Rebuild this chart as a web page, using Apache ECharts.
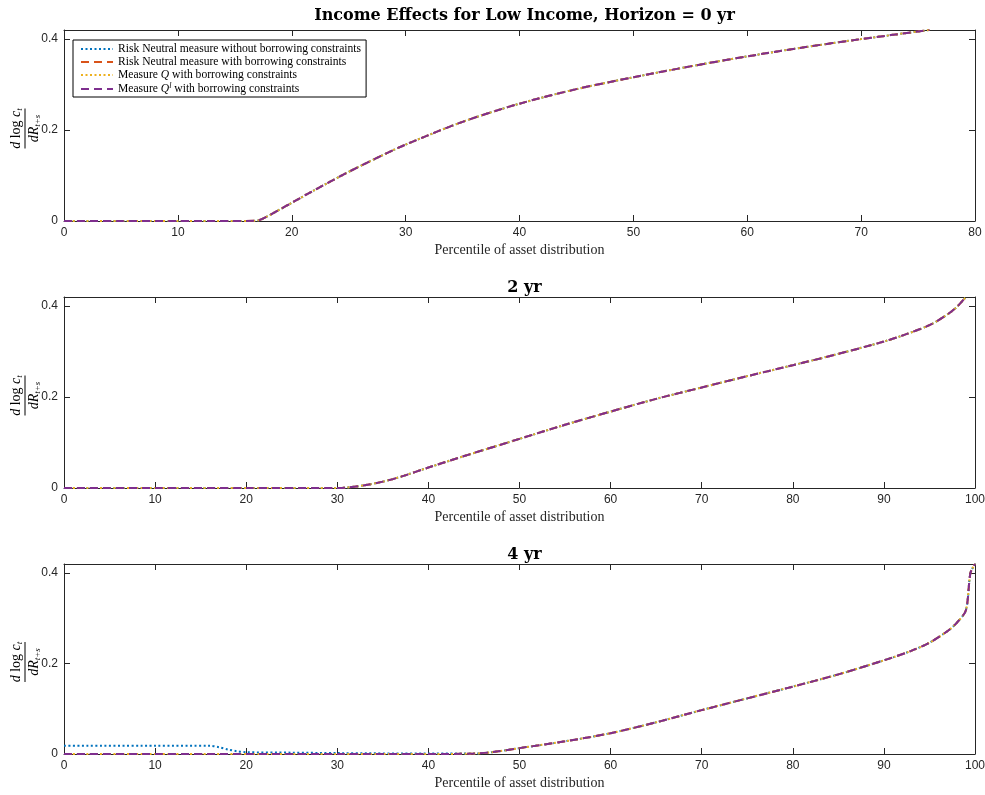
<!DOCTYPE html>
<html><head><meta charset="utf-8">
<script src="https://cdn.jsdelivr.net/npm/echarts@6/dist/echarts.min.js"></script>
<style>html,body{margin:0;padding:0;background:#fff}#c{width:985px;height:795px}</style>
</head><body><div id="c"></div>
<script>
// ---------- data ----------
const seriesNames = [
  'Risk Neutral measure without borrowing constraints',
  'Risk Neutral measure with borrowing constraints',
  'Measure Q with borrowing constraints',
  'Measure Ql with borrowing constraints'
];
const panelTitles = ['Income Effects for Low Income, Horizon = 0 yr', '2 yr', '4 yr'];
const xMax = [80, 100, 100];
const yTicks = [0, 0.2, 0.4];

// Horizon 0 yr
const x0 = [0, 5, 10, 15, 16, 17, 18, 19, 20, 22, 25, 28, 30, 35, 40, 45, 50, 55, 60, 65, 70, 76];
const y0 = [0, 0, 0, 0, 0, 0.001, 0.012, 0.026, 0.040, 0.068, 0.108, 0.145, 0.168, 0.218, 0.258, 0.290, 0.316, 0.340, 0.362, 0.382, 0.400, 0.420];

// Horizon 2 yr
const x2 = [0, 10, 20, 30, 31, 33, 35, 37, 40, 45, 50, 55, 60, 65, 70, 75, 80, 85, 90, 92, 95, 97, 98, 99];
const y2 = [0, 0, 0, 0, 0.001, 0.006, 0.014, 0.025, 0.045, 0.077, 0.108, 0.139, 0.168, 0.196, 0.221, 0.246, 0.270, 0.295, 0.322, 0.335, 0.358, 0.382, 0.398, 0.420];

// Horizon 4 yr
const x4 = [0, 10, 16, 17, 18, 19, 20, 25, 30, 40, 45, 47, 50, 55, 60, 65, 70, 75, 80, 85, 90, 93, 95, 97, 98, 99, 99.5, 100];
const y4 = [0, 0, 0, 0, 0, 0, 0, 0, 0, 0, 0.001, 0.004, 0.013, 0.028, 0.046, 0.070, 0.097, 0.123, 0.149, 0.176, 0.207, 0.228, 0.246, 0.272, 0.290, 0.318, 0.400, 0.420];
const y4rn = [0.018, 0.018, 0.018, 0.015, 0.010, 0.006, 0.004, 0.003, 0.002, 0.001, 0.001, 0.004, 0.013, 0.028, 0.046, 0.070, 0.097, 0.123, 0.149, 0.176, 0.207, 0.228, 0.246, 0.272, 0.290, 0.318, 0.400, 0.420];

// ---------- styles ----------
const colors = ['#0072BD', '#D95319', '#EDB120', '#7E2F8E'];
const dashes = [[2, 2.5], [8, 5], [2, 2.5], [8, 5]];
const grids = [
  {left: 64, top: 30, width: 911, height: 191},
  {left: 64, top: 297, width: 911, height: 191},
  {left: 64, top: 564, width: 911, height: 190}
];
const titleTops = [3, 275, 542];
const serif = '"Liberation Serif", "DejaVu Serif", serif';
const wideSerif = '"DejaVu Serif", "Liberation Serif", serif';
const sans = '"Liberation Sans", Arial, sans-serif';

const xs = [x0, x2, x4];
const ysets = [[y0, y0, y0, y0], [y2, y2, y2, y2], [y4rn, y4, y4, y4]];

const chart = echarts.init(document.getElementById('c'));
const xAxis = [], yAxis = [], series = [], title = [], graphic = [];

const subRich = {
  i: {fontFamily: serif, fontStyle: 'italic', fontSize: 14},
  r: {fontFamily: serif, fontSize: 14},
  s: {fontFamily: serif, fontStyle: 'italic', fontSize: 9, padding: [7, 0, 0, 0]}
};

grids.forEach((g, i) => {
  xAxis.push({
    type: 'value', gridIndex: i, min: 0, max: xMax[i], interval: 10, position: 'bottom',
    axisLine: {show: true, onZero: false, lineStyle: {color: '#262626', width: 1}},
    axisTick: {show: true, inside: true, length: 6, lineStyle: {color: '#262626'}},
    axisLabel: {color: '#262626', fontFamily: sans, fontSize: 12, margin: 6},
    splitLine: {show: false},
    name: 'Percentile of asset distribution', nameLocation: 'middle', nameGap: 22,
    nameTextStyle: {fontFamily: serif, fontSize: 14, color: '#262626'}
  });
  xAxis.push({
    type: 'value', gridIndex: i, min: 0, max: xMax[i], interval: 10, position: 'top',
    axisLine: {show: true, onZero: false, lineStyle: {color: '#262626', width: 1}},
    axisTick: {show: true, inside: true, length: 6, lineStyle: {color: '#262626'}},
    axisLabel: {show: false}, splitLine: {show: false}
  });
  yAxis.push({
    type: 'value', gridIndex: i, min: 0, max: 0.42, position: 'left',
    axisLine: {show: true, onZero: false, lineStyle: {color: '#262626', width: 1}},
    axisTick: {show: true, inside: true, length: 6, customValues: yTicks, lineStyle: {color: '#262626'}},
    axisLabel: {color: '#262626', fontFamily: sans, fontSize: 12, margin: 6, customValues: yTicks,
      formatter: v => (v === 0 ? '0' : String(+v.toFixed(2)))},
    splitLine: {show: false}
  });
  yAxis.push({
    type: 'value', gridIndex: i, min: 0, max: 0.42, position: 'right',
    axisLine: {show: true, onZero: false, lineStyle: {color: '#262626', width: 1}},
    axisTick: {show: true, inside: true, length: 6, customValues: yTicks, lineStyle: {color: '#262626'}},
    axisLabel: {show: false}, splitLine: {show: false}
  });
  for (let k = 0; k < 4; k++) {
    series.push({
      type: 'line', name: seriesNames[k], xAxisIndex: 2 * i, yAxisIndex: 2 * i,
      data: xs[i].map((x, j) => [x, ysets[i][k][j]]),
      symbol: 'none', smooth: 0.3, clip: true, z: 2 + k,
      lineStyle: {color: colors[k], width: 2, type: dashes[k]},
      itemStyle: {color: colors[k]}
    });
  }
  title.push({
    text: panelTitles[i], left: g.left + g.width / 2, top: titleTops[i], textAlign: 'center',
    textStyle: {fontFamily: wideSerif, fontWeight: 'bold', fontSize: 16, color: '#000'}
  });
  const cy = g.top + g.height / 2 + 3;
  graphic.push({
    type: 'group', x: 25, y: cy, rotation: Math.PI / 2,
    children: [
      {type: 'text', x: 0, y: -1, style: {
        text: '{i|d} {r|log} {i|c}{s|t}', align: 'center', verticalAlign: 'bottom',
        fontFamily: serif, fontSize: 14, fill: '#000', rich: subRich
      }},
      {type: 'line', shape: {x1: -20, y1: 0, x2: 20, y2: 0}, style: {stroke: '#000', lineWidth: 1}},
      {type: 'text', x: 0, y: 1, style: {
        text: '{i|dR}{s|t+s}', align: 'center', verticalAlign: 'top',
        fontFamily: serif, fontSize: 14, fill: '#000', rich: subRich
      }}
    ]
  });
});

const legendLabels = {};
legendLabels[seriesNames[0]] = 'Risk Neutral measure without borrowing constraints';
legendLabels[seriesNames[1]] = 'Risk Neutral measure with borrowing constraints';
legendLabels[seriesNames[2]] = 'Measure {it|Q} with borrowing constraints';
legendLabels[seriesNames[3]] = 'Measure {it|Q}{sup|l} with borrowing constraints';

chart.setOption({
  backgroundColor: '#fff',
  animation: false,
  title: title,
  grid: grids.map(g => Object.assign({show: false, containLabel: false, outerBoundsMode: 'none'}, g)),
  xAxis: xAxis,
  yAxis: yAxis,
  series: series,
  graphic: graphic,
  legend: {
    data: seriesNames, orient: 'vertical', left: 73, top: 40,
    backgroundColor: '#fff', borderColor: '#000', borderWidth: 1,
    padding: [3, 5, 2, 7], itemGap: 1, itemWidth: 32, itemHeight: 13,
    selectedMode: false,
    itemStyle: {color: 'rgba(0,0,0,0)', borderWidth: 0, borderColor: 'rgba(0,0,0,0)'},
    formatter: n => legendLabels[n],
    textStyle: {fontFamily: serif, fontSize: 11.6, color: '#000',
      rich: {it: {fontFamily: serif, fontStyle: 'italic', fontSize: 11.6}, sup: {fontFamily: serif, fontStyle: 'italic', fontSize: 8, padding: [0, 0, 6, 0]}}}
  }
});
</script>
</body></html>
